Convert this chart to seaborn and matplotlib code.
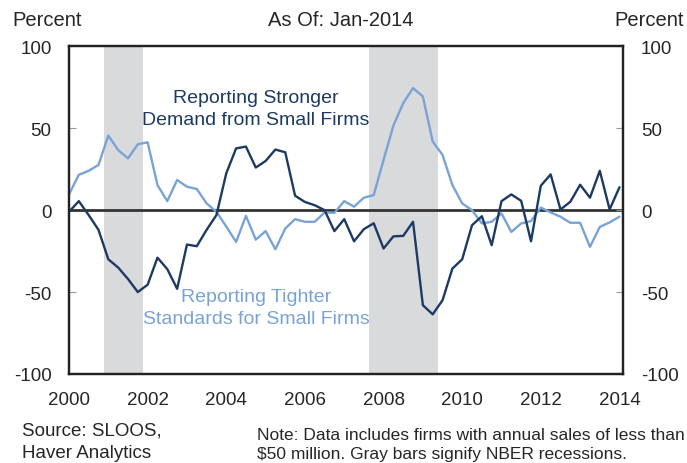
import numpy as np
import pandas as pd
import matplotlib
matplotlib.use("Agg")
import matplotlib.pyplot as plt
import seaborn as sns

# ---- data (quarterly, 2000Q1 .. 2014Q1) ----
start_date = "2000-01-01"
n_quarters = 57
demand = [-1, 5.5, -3, -12, -30, -35, -42, -50, -45.5, -29, -36, -48, -21, -22, -12, -3,
          22.5, 37.7, 38.8, 26, 30, 37, 35.3, 8.8, 5, 3, 0, -12.8, -5.5, -19, -11.6, -8,
          -23.4, -16, -15.7, -7.1, -58, -63.6, -55, -35.7, -30, -9.2, -3.7, -21.4, 5.5, 9.6,
          5.7, -19, 14.9, 21.8, 0.4, 5.1, 15.5, 7.6, 24, 0.4, 14]
standards = [9.6, 21.6, 24, 27.6, 45.5, 36.7, 31.6, 40.2, 41.4, 15.3, 5.5, 18.4, 14.3, 12.9, 4.1, -1,
             -10, -19.4, -3.5, -18, -12.8, -23.9, -11.2, -5.5, -7.1, -7.1, -1.4, -1.6, 5.5, 2.1, 7.6, 9.2,
             30.6, 51.6, 65.3, 74.5, 69.4, 41.9, 33.7, 15.4, 4.1, 0, -8.1, -7.1, -2, -13.3,
             -8.1, -6.7, 1.6, -1.4, -4, -7.7, -7.7, -22.4, -10.2, -7.5, -4]
recessions = [(2000.88, 2001.88), (2007.63, 2009.38)]
xticks = [2000, 2002, 2004, 2006, 2008, 2010, 2012, 2014]
yticks = [-100, -50, 0, 50, 100]

dates = pd.date_range(start_date, periods=n_quarters, freq="QS")
dec_year = dates.year + (dates.month - 1) / 12.0
df = pd.DataFrame({"year": np.asarray(dec_year, dtype=float),
                   "demand": demand, "standards": standards})

sns.set_style("white")
plt.rcParams["font.family"] = ["Liberation Sans", "DejaVu Sans"]

W, H = 687, 464
fig = plt.figure(figsize=(W / 100, H / 100), dpi=100)
ax = fig.add_axes([69 / W, 89 / H, (623 - 69) / W, (375 - 47.3) / H])

dark = "#1c3a63"
light = "#79a3d6"

for a, b in recessions:
    ax.axvspan(a, b, color="#d9dadc", lw=0, zorder=0)
ax.axhline(0, color="#333333", lw=2.0, zorder=1)

sns.lineplot(data=df, x="year", y="standards", ax=ax, color=light, lw=1.7, zorder=3)
sns.lineplot(data=df, x="year", y="demand", ax=ax, color=dark, lw=1.7, zorder=4)

ax.set_xlim(2000, 2014.09)
ax.set_ylim(-100, 100)
ax.set_xlabel("")
ax.set_ylabel("")
ax.set_xticks(xticks)
ax.set_xticklabels([str(t) for t in xticks], fontsize=13.5)
ax.set_yticks(yticks)
ax.set_yticklabels([str(t) for t in yticks], fontsize=13.5, ha="right")
ax.tick_params(axis="x", direction="in", length=5, width=0.8, color="#999999", pad=12)
ax.tick_params(axis="y", direction="in", length=5, width=0.8, color="#999999", pad=12.5)

ax2 = ax.twinx()
ax2.set_ylim(-100, 100)
ax2.set_yticks(yticks)
ax2.set_yticklabels([str(t) for t in yticks], fontsize=13.5)
ax2.tick_params(axis="y", direction="in", length=5, width=0.8, color="#999999", pad=13)

for a in (ax, ax2):
    for s in a.spines.values():
        s.set_visible(True)
        s.set_color("#222222")
        s.set_linewidth(1.6)

ax.text(2004.76, 62, "Reporting Stronger\nDemand from Small Firms", color=dark,
        fontsize=14, ha="center", va="center", linespacing=1.4)
ax.text(2004.76, -59.5, "Reporting Tighter\nStandards for Small Firms", color=light,
        fontsize=14, ha="center", va="center", linespacing=1.4)

fig.text(12 / W, 1 - 20 / H, "Percent", fontsize=14.5, ha="left", va="center")
fig.text(341 / W, 1 - 20 / H, "As Of: Jan-2014", fontsize=14.5, ha="center", va="center")
fig.text(684 / W, 1 - 20 / H, "Percent", fontsize=14.5, ha="right", va="center")

fig.text(22 / W, 1 - 442 / H, "Source: SLOOS,\nHaver Analytics", fontsize=13.5,
         ha="left", va="center", linespacing=1.45)
fig.text(257 / W, 1 - 445 / H,
         "Note: Data includes firms with annual sales of less than\n$50 million. Gray bars signify NBER recessions.",
         fontsize=12.5, ha="left", va="center", linespacing=1.3)

fig.savefig("out.png", dpi=100)
